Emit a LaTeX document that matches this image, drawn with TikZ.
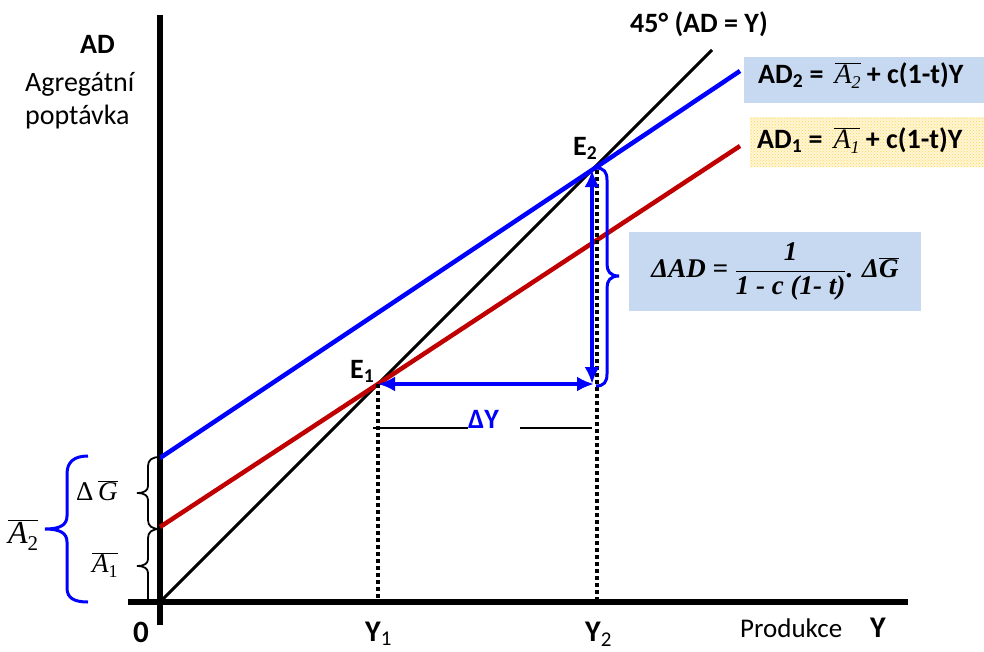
\documentclass[tikz,border=0pt]{standalone}
\usepackage{fontspec}
\setmainfont{Carlito}
\newfontfamily\tnr{Liberation Serif}
\usetikzlibrary{arrows.meta}
\usetikzlibrary{patterns}
\definecolor{adblue}{RGB}{0,0,255}
\definecolor{adred}{RGB}{192,0,0}
\definecolor{boxblue}{RGB}{198,217,241}
\definecolor{boxyellow}{RGB}{255,246,214}
\definecolor{dotyellow}{RGB}{255,214,90}
\newcommand{\fs}[1]{\fontsize{#1}{#1}\selectfont}
\newcommand{\ovl}[1]{$\overline{\mbox{#1}}$}

\begin{document}
\begin{tikzpicture}[
    x=1pt, y=-1pt,
    axis/.style={line width=6.5pt},
    adline/.style={line width=4.5pt},
    dotline/.style={line width=3.5pt, dash pattern=on 3.5pt off 3.5pt},
    dblarrow/.style={adblue, line width=3.5pt, {Latex[length=17pt,width=15pt]}-{Latex[length=17pt,width=15pt]}},
    lbl/.style={inner sep=0pt, anchor=base west, font=\fs{28}\bfseries},
    txt/.style={inner sep=0pt, anchor=base west, font=\fs{28}},
    mlbl/.style={inner sep=0pt, anchor=base west, font=\tnr\fs{27}},
    legbox/.style={inner sep=0pt, anchor=north west},
    brc/.style={line width=1.8pt},
    bbrc/.style={adblue, line width=3pt}
]
    \useasboundingbox (0,0) rectangle (984,651);

    % points
    \coordinate (O) at (160,602);
    \coordinate (E1) at (378,384);
    \coordinate (E2) at (592,170);
    \coordinate (Y1) at (378,602);
    \coordinate (Y2) at (597,602);
    \coordinate (a1) at (160,527);
    \coordinate (a2) at (160,458);

    % legend boxes and formula box
    \node[legbox, fill=boxblue, minimum width=240pt, minimum height=46pt] (leg2) at (744,57) {};
    \node[legbox, fill=boxyellow, minimum width=235pt, minimum height=50pt] (leg1) at (750,117) {};
    \fill[pattern=crosshatch dots, pattern color=dotyellow] (leg1.north west) rectangle (leg1.south east);
    \node[fill=boxblue, minimum width=292pt, minimum height=79pt, inner sep=0pt] (fbox) at (775,271.5)
        {\tnr\bfseries\itshape\fs{27}ΔAD = $\displaystyle{\mbox{1}\above 1.3pt \mbox{1 - c (1- t)}}$. Δ\ovl{G}};

    % axes
    \draw[axis] (160,15) -- (160,625);
    \draw[axis] (128,602) -- (908,602);

    % lines
    \draw[line width=3pt] (O) -- (712,50);
    \draw[adline, adred] (a1) -- (E1) -- (740,146);
    \draw[adline, adblue] (a2) -- (E2) -- (740,71);

    % dotted drops
    \draw[dotline] (E1) -- (Y1);
    \draw[dotline] (Y2 |- E2) -- (Y2);

    % multiplier arrows
    \draw[dblarrow] (E1) -- (594,384);
    \draw[dblarrow] (592,384) -- (E2);
    \draw[bbrc] (596,168) .. controls (604,168) and (607,172) .. (607,180) -- (607,264)
        .. controls (607,271) and (610,276) .. (619,276)
        .. controls (610,276) and (607,281) .. (607,288) -- (607,374)
        .. controls (607,382) and (604,386) .. (596,386);

    % delta Y
    \node[lbl, text=adblue] (tdY) at (468,428) {ΔY};
    \draw[line width=1.8pt] (373,428) -- (tdY.base west);
    \draw[line width=1.8pt] (520,428) -- (592,428);

    % braces on the AD axis
    \draw[brc] (160,457) .. controls (152,457) and (148,460) .. (148,466) -- (148,486)
        .. controls (148,490) and (145,493) .. (137,493)
        .. controls (145,493) and (148,496) .. (148,500) -- (148,520)
        .. controls (148,526) and (152,529) .. (160,529);
    \draw[brc] (160,529) .. controls (152,529) and (148,532) .. (148,538) -- (148,559)
        .. controls (148,563) and (145,566) .. (137,566)
        .. controls (145,566) and (148,569) .. (148,573) -- (148,600);
    \draw[bbrc] (88,456) .. controls (74,456) and (67,462) .. (67,474) -- (67,516)
        .. controls (67,525) and (60,529) .. (45,529)
        .. controls (60,529) and (67,533) .. (67,542) -- (67,588)
        .. controls (67,598) and (74,602) .. (88,602);

    % labels
    \node[lbl] (tAD) at (80,53) {AD};
    \node[txt] (tagr) at (25,91) {Agregátní};
    \node[txt] (tpop) at (25,124) {poptávka};
    \node[lbl] (t45) at (630,32) {45° (AD = Y)};
    \node[lbl] (tE1) at (350,378) {E\textsubscript{1}};
    \node[lbl] (tE2) at (573,155) {E\textsubscript{2}};
    \node[lbl, font=\fs{31}\bfseries] (t0) at (133,642) {0};
    \node[lbl, font=\fs{30}\bfseries] (tY1) at (365,641) {Y\textsubscript{\mdseries 1}};
    \node[lbl, font=\fs{30}\bfseries] (tY2) at (585,641) {Y\textsubscript{\mdseries 2}};
    \node[txt, font=\fs{27}] (tprod) at (740,637) {Produkce};
    \node[lbl, font=\fs{30}\bfseries] (tY) at (870,637) {Y};
    \node[mlbl] (tdG) at (76,500) {Δ\,\ovl{\itshape G}};
    \node[mlbl] (tA1) at (92,572) {\ovl{\itshape A\raisebox{-5pt}{\upshape\fs{18}1}}};
    \node[mlbl, font=\tnr\fs{32}] (tA2) at (8,543) {\ovl{\itshape A\raisebox{-7pt}{\upshape\fs{21}2}}};
    \node[lbl, font=\fs{28}\bfseries] (tleg2) at (758,83)
        {AD\textsubscript{2} =\, {\tnr\mdseries\itshape\ovl{A\raisebox{-5pt}{\fs{18}2}}} + c(1-t)Y};
    \node[lbl, font=\fs{28}\bfseries] (tleg1) at (757,148)
        {AD\textsubscript{1} =\, {\tnr\mdseries\itshape\ovl{A\raisebox{-5pt}{\fs{18}1}}} + c(1-t)Y};
\end{tikzpicture}
\end{document}
